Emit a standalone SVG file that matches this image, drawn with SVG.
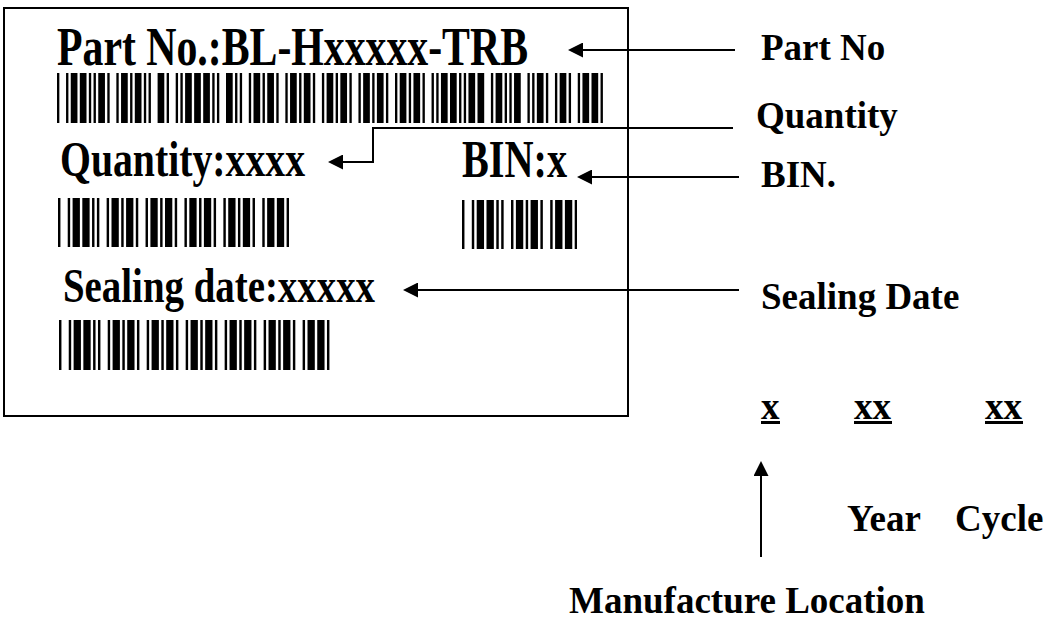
<svg xmlns="http://www.w3.org/2000/svg" width="1046" height="623" viewBox="0 0 1046 623">
<style>
.lbl{font-family:"Liberation Serif","Times New Roman",serif;font-weight:bold;font-size:37px;fill:#000}
.in{font-family:"Liberation Serif","Times New Roman",serif;font-weight:bold;fill:#000}
.bar{stroke:#000;fill:none}
.conn{stroke:#000;stroke-width:2;fill:none;marker-end:url(#arr)}
</style>
<defs>
<marker id="arr" viewBox="0 0 15 15" refX="12" refY="7.5" markerWidth="15" markerHeight="15" markerUnits="userSpaceOnUse" orient="auto">
<path d="M0,0 L15,7.5 L0,15 z" fill="#000"/>
</marker>
</defs>
<rect x="0" y="0" width="1046" height="623" fill="#fff"/>

<g id="label">
<rect x="4" y="8" width="624" height="408" fill="none" stroke="#000" stroke-width="2"/>
</g>

<g id="part-no-field">
<text class="in" x="57" y="65" font-size="55" textLength="471" lengthAdjust="spacingAndGlyphs">Part No.:BL-Hxxxxx-TRB</text>
<line class="bar" x1="57" y1="98" x2="603" y2="98" stroke-width="50" stroke-dasharray="2.35 6.7 2.35 2.35 6.7 2.35 6.7 2.35 2.35 2.35 2.35 2.35 6.7 2.35 2.35 6.7 2.35 2.35 6.7 2.35 2.35 2.35 6.7 2.35 2.35 2.35 2.35 6.7 6.7 2.35 2.35 6.7 2.35 2.35 2.35 2.35 6.7 2.35 6.7 2.35 6.7 2.35 2.35 2.35 2.35 6.7 6.7 2.35 2.35 2.35 2.35 6.7 2.35 2.35 6.7 2.35 2.35 2.35 6.7 2.35 2.35 6.7 2.35 2.35 6.7 2.35 2.35 2.35 6.7 2.35 2.35 6.7 2.35 2.35 6.7 2.35 2.35 2.35 6.7 2.35 2.35 6.7 2.35 2.35 6.7 2.35 2.35 2.35 6.7 2.35 2.35 6.7 2.35 2.35 6.7 2.35 2.35 2.35 6.7 2.35 2.35 6.7 2.35 2.35 2.35 2.35 6.7 2.35 6.7 2.35 2.35 2.35 2.35 2.35 6.7 2.35 6.7 6.7 2.35 2.35 6.7 2.35 2.35 2.35 2.35 2.35 6.7 6.7 2.35 2.35 2.35 2.35 6.7 2.35 2.35 6.7 2.35 2.35 6.7 2.35 2.35 6.7 2.35 2.35 6.7 2.35 6.7 2.35 2.35 2.35"/>
</g>

<g id="quantity-field">
<text class="in" x="60" y="176" font-size="50" textLength="245" lengthAdjust="spacingAndGlyphs">Quantity:xxxx</text>
<line class="bar" x1="58" y1="222.5" x2="289" y2="222.5" stroke-width="49" stroke-dasharray="2.43 7.3 2.43 2.43 7.3 2.43 7.3 2.43 2.43 2.43 2.43 7.3 2.43 2.43 7.3 2.43 2.43 2.43 7.3 2.43 2.43 7.3 2.43 2.43 7.3 2.43 2.43 2.43 7.3 2.43 2.43 7.3 2.43 2.43 7.3 2.43 2.43 2.43 7.3 2.43 2.43 7.3 2.43 2.43 7.3 2.43 2.43 2.43 7.3 2.43 2.43 7.3 2.43 2.43 7.3 2.43 7.3 2.43 2.43 2.43"/>
</g>

<g id="bin-field">
<text class="in" x="462" y="177" font-size="53" textLength="105" lengthAdjust="spacingAndGlyphs">BIN:x</text>
<line class="bar" x1="462" y1="224.5" x2="577" y2="224.5" stroke-width="49" stroke-dasharray="2.45 7.35 2.45 2.45 7.35 2.45 7.35 2.45 2.45 2.45 2.45 7.35 2.45 2.45 7.35 2.45 2.45 2.45 7.35 2.45 2.45 7.35 2.45 2.45 7.35 2.45 7.35 2.45 2.45 2.45"/>
</g>

<g id="sealing-date-field">
<text class="in" x="63" y="302" font-size="48" textLength="312" lengthAdjust="spacingAndGlyphs">Sealing date:xxxxx</text>
<line class="bar" x1="59" y1="345" x2="330" y2="345" stroke-width="50" stroke-dasharray="2.44 7.3 2.44 2.44 7.3 2.44 7.3 2.44 2.44 2.44 2.44 7.3 2.44 2.44 7.3 2.44 2.44 2.44 7.3 2.44 2.44 7.3 2.44 2.44 7.3 2.44 2.44 2.44 7.3 2.44 2.44 7.3 2.44 2.44 7.3 2.44 2.44 2.44 7.3 2.44 2.44 7.3 2.44 2.44 7.3 2.44 2.44 2.44 7.3 2.44 2.44 7.3 2.44 2.44 7.3 2.44 2.44 2.44 7.3 2.44 2.44 7.3 2.44 2.44 7.3 2.44 7.3 2.44 2.44 2.44"/>
</g>

<g id="part-no-label"><text class="lbl" x="761" y="60">Part No</text></g>
<g id="quantity-label"><text class="lbl" x="756" y="128">Quantity</text></g>
<g id="bin-label"><text class="lbl" x="761" y="187">BIN.</text></g>
<g id="sealing-date-label"><text class="lbl" x="761" y="309">Sealing Date</text></g>

<g id="date-code">
<text class="lbl" x="761" y="419">x</text>
<text class="lbl" x="854" y="419">xx</text>
<text class="lbl" x="985" y="419">xx</text>
<rect x="761" y="421" width="19" height="3" fill="#000"/>
<rect x="854" y="421" width="38" height="3" fill="#000"/>
<rect x="985" y="421" width="38" height="3" fill="#000"/>
</g>
<g id="year-label"><text class="lbl" x="847" y="531">Year</text></g>
<g id="cycle-label"><text class="lbl" x="955" y="531">Cycle</text></g>
<g id="manufacture-location-label"><text class="lbl" x="569" y="613">Manufacture Location</text></g>

<g id="connectors">
<path class="conn" d="M735,50 H571"/>
<path class="conn" d="M733,128 H373 V162 H331"/>
<path class="conn" d="M739,177 H580"/>
<path class="conn" d="M739,290 H406"/>
<path class="conn" d="M761,557 V464"/>
</g>
</svg>
